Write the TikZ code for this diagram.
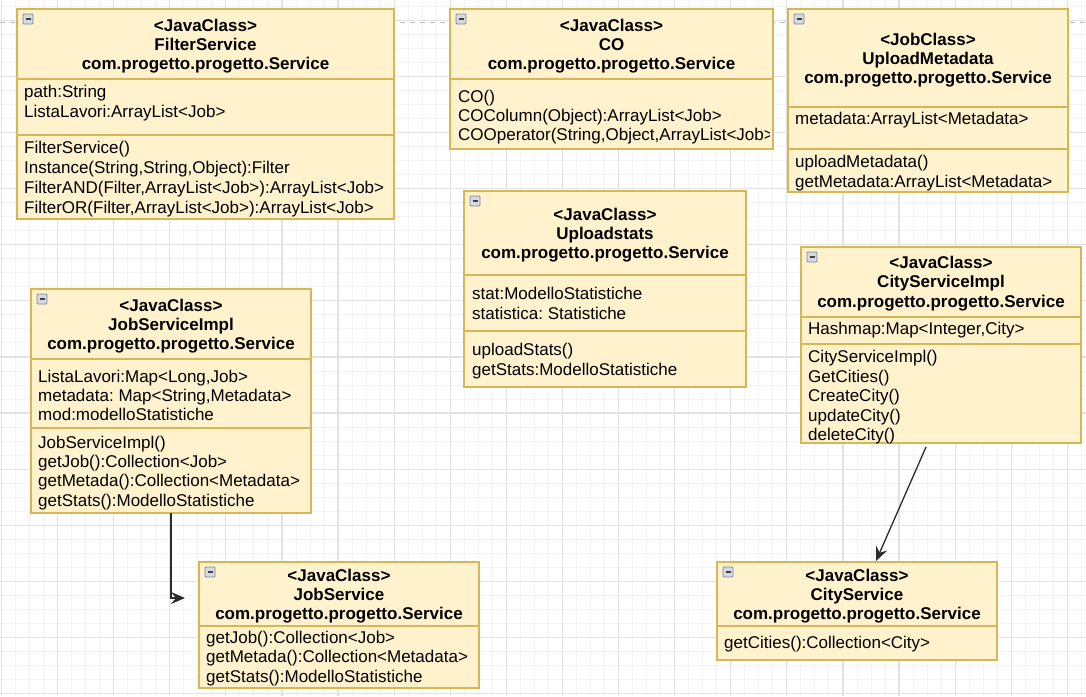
\documentclass[tikz,border=0pt]{standalone}
\usepackage{fontspec}
\setmainfont{Liberation Sans}
\usetikzlibrary{arrows.meta}
\frenchspacing
\definecolor{boxfill}{HTML}{FFF2CC}
\definecolor{boxline}{HTML}{D6B656}
\definecolor{gridmaj}{HTML}{E2E2E2}
\definecolor{gridmin}{HTML}{F3F3F3}
\definecolor{connc}{HTML}{2B2B2B}
\definecolor{iconfill}{HTML}{D3DAE2}
\definecolor{iconline}{HTML}{7D8A97}
\definecolor{pagebr}{HTML}{BDBDBD}
\tikzset{
 cls/.style={draw=boxline, fill=boxfill, line width=1.4pt, inner sep=0pt, outer sep=0pt, rectangle},
 divline/.style={draw=boxline, line width=1.4pt},
 hd/.style={font=\fontsize{17}{19}\selectfont\bfseries, inner sep=0pt, anchor=base},
 tx/.style={font=\fontsize{17}{19}\selectfont, inner sep=0pt, anchor=base west},
 connector/.style={draw=connc, line width=1.3pt, -{Stealth[length=14pt,width=12pt,inset=5pt]}},
 gridmin/.style={draw=gridmin, line width=0.8pt},
 gridmaj/.style={draw=gridmaj, line width=1.2pt},
 pagebreak/.style={draw=pagebr, line width=1.2pt, dash pattern=on 5pt off 5pt},
 iconbox/.style={draw=iconline, fill=iconfill, line width=0.8pt, rounded corners=1pt},
 iconbar/.style={draw=black!75, line width=1.6pt}
}
\newcommand\umlbox[5]{%
 \node[cls, minimum width={#4-#2}, minimum height={#5-#3}, anchor=north west] (#1) at (#2,#3) {};
 \draw[iconbox] ({#2+6},{#3+5}) rectangle ++(10,10);
 \draw[iconbar] ({#2+8.5},{#3+10}) -- ++(5,0);}
\newcommand\hdlines[5]{%
 \foreach \t [count=\i] in {#5} {\node[hd] (#1-h\i) at (#2,{#3+(\i-1)*#4}) {\t};}}
\newcommand\txlines[6]{%
 \foreach \t [count=\i] in {#6} {\node[tx] (#1-#2\i) at (#3,{#4+(\i-1)*#5}) {\t};}}
\begin{document}
\begin{tikzpicture}[x=1pt,y=-1pt]
\useasboundingbox (0,0) rectangle (1086,696);
\fill[white] (0,0) rectangle (1086,696);
% grid
\foreach \k in {0,...,77} \draw[gridmin] ({1.4+\k*14.025},0) -- ++(0,696);
\foreach \k in {-1,...,48} \draw[gridmin] (0,{20.3+\k*14.025}) -- ++(1086,0);
\foreach \k in {0,...,19} \draw[gridmaj] ({1.4+\k*56.1},0) -- ++(0,696);
\foreach \k in {0,...,12} \draw[gridmaj] (0,{20.3+\k*56.1}) -- ++(1086,0);
\draw[pagebreak] (0,22.5) -- (1086,22.5);

% FilterService
\umlbox{fs}{17}{9}{394}{219}
\draw[divline] (17,79) -- (394,79);
\draw[divline] (17,135) -- (394,135);
\hdlines{fs}{205.5}{31.5}{19}{{<JavaClass>},{FilterService},{com.progetto.progetto.Service}}
\txlines{fs}{a}{24}{97.5}{19.5}{{path:String},{ListaLavori:ArrayList<Job>}}
\txlines{fs}{m}{24}{153.5}{20}{{FilterService()},{Instance(String,String,Object):Filter},{FilterAND(Filter,ArrayList<Job>):ArrayList<Job>},{FilterOR(Filter,ArrayList<Job>):ArrayList<Job>}}

% CO
\umlbox{co}{450}{9}{773}{149}
\draw[divline] (450,79) -- (773,79);
\hdlines{co}{611.5}{31.5}{19}{{<JavaClass>},{CO},{com.progetto.progetto.Service}}
\begin{scope}
\clip (450,79) rectangle (769,149);
\txlines{co}{m}{458}{102.5}{19}{{CO()},{COColumn(Object):ArrayList<Job>},{COOperator(String,Object,ArrayList<Job>):ArrayList<Job>}}
\end{scope}

% UploadMetadata
\umlbox{um}{788}{9}{1068}{192}
\draw[divline] (788,107) -- (1068,107);
\draw[divline] (788,149) -- (1068,149);
\hdlines{um}{928}{45.5}{19}{{<JobClass>},{UploadMetadata},{com.progetto.progetto.Service}}
\txlines{um}{a}{795}{124.5}{19.5}{{metadata:ArrayList<Metadata>}}
\txlines{um}{m}{795}{167.5}{19.5}{{uploadMetadata()},{getMetadata:ArrayList<Metadata>}}

% Uploadstats
\umlbox{us}{464}{191}{746}{387}
\draw[divline] (464,275) -- (746,275);
\draw[divline] (464,331) -- (746,331);
\hdlines{us}{605}{220.5}{19}{{<JavaClass>},{Uploadstats},{com.progetto.progetto.Service}}
\txlines{us}{a}{472}{299.5}{19.5}{{stat:ModelloStatistiche},{statistica: Statistiche}}
\txlines{us}{m}{472}{355.5}{19.5}{{uploadStats()},{getStats:ModelloStatistiche}}

% JobServiceImpl
\umlbox{jsi}{31}{289}{311}{513}
\draw[divline] (31,359) -- (311,359);
\draw[divline] (31,428) -- (311,428);
\hdlines{jsi}{171}{311.5}{19}{{<JavaClass>},{JobServiceImpl},{com.progetto.progetto.Service}}
\txlines{jsi}{a}{38}{382.5}{19}{{ListaLavori:Map<Long,Job>},{metadata: Map<String,Metadata>},{mod:modelloStatistiche}}
\txlines{jsi}{m}{38}{448.5}{19.2}{{JobServiceImpl()},{getJob():Collection<Job>},{getMetada():Collection<Metadata>},{getStats():ModelloStatistiche}}

% JobService
\umlbox{js}{199}{562}{479}{688}
\draw[divline] (199,626) -- (479,626);
\hdlines{js}{339}{581.5}{19}{{<JavaClass>},{JobService},{com.progetto.progetto.Service}}
\txlines{js}{m}{206}{643.5}{19.3}{{getJob():Collection<Job>},{getMetada():Collection<Metadata>},{getStats():ModelloStatistiche}}

% CityServiceImpl
\umlbox{csi}{801}{247}{1081}{443}
\draw[divline] (801,317) -- (1081,317);
\draw[divline] (801,344) -- (1081,344);
\hdlines{csi}{941}{268.5}{19.3}{{<JavaClass>},{CityServiceImpl},{com.progetto.progetto.Service}}
\txlines{csi}{a}{808}{334.5}{19.5}{{Hashmap:Map<Integer,City>}}
\txlines{csi}{m}{808}{362.5}{19.5}{{CityServiceImpl()},{GetCities()},{CreateCity()},{updateCity()},{deleteCity()}}

% CityService
\umlbox{cs}{717}{562}{997}{660}
\draw[divline] (717,626) -- (997,626);
\hdlines{cs}{857}{581.5}{19}{{<JavaClass>},{CityService},{com.progetto.progetto.Service}}
\txlines{cs}{m}{724}{648.5}{19.5}{{getCities():Collection<City>}}

% connectors
\coordinate (a1e) at (185,598);
\draw[connector] (jsi.south) |- (a1e);
\coordinate (a2s) at (926,447);
\coordinate (a2e) at (876,561);
\draw[connector] (a2s) -- (a2e);
\end{tikzpicture}
\end{document}
